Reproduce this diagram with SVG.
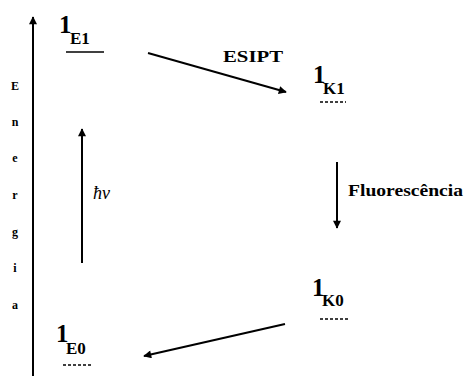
<svg xmlns="http://www.w3.org/2000/svg" width="465" height="376" viewBox="0 0 465 376">
<defs>
<style>
.ln{stroke:#000;stroke-width:2;fill:none}
.ul{stroke:#000;stroke-width:1.5;fill:none}
.dash{stroke-dasharray:3 2}
.big{font-family:"Liberation Serif",serif;font-weight:bold;font-size:25px;fill:#000}
.sub{font-family:"Liberation Serif",serif;font-weight:bold;font-size:17px;fill:#000}
.lab{font-family:"Liberation Serif",serif;font-weight:bold;font-size:17px;fill:#000}
.ax{font-family:"Liberation Serif",serif;font-weight:bold;font-size:12px;fill:#000;text-anchor:middle}
.hv{font-family:"Liberation Serif",serif;font-style:italic;font-size:18px;fill:#000}
</style>
<marker id="ah" viewBox="0 0 10 10" refX="9" refY="5" markerWidth="10" markerHeight="8" markerUnits="userSpaceOnUse" orient="auto">
<path d="M0,0 L10,5 L0,10 Z" fill="#000"/>
</marker>
</defs>
<rect width="465" height="376" fill="#fff"/>
<g id="axis">
<line class="ln" x1="33" y1="376" x2="33" y2="17" marker-end="url(#ah)"/>
<text class="ax" x="15" y="90">E</text>
<text class="ax" x="15" y="126">n</text>
<text class="ax" x="15" y="162">e</text>
<text class="ax" x="15" y="199">r</text>
<text class="ax" x="15" y="236">g</text>
<text class="ax" x="15" y="272">i</text>
<text class="ax" x="15" y="309">a</text>
</g>
<g id="E1">
<text class="big" x="59" y="33">1</text>
<text class="sub" x="70" y="44">E1</text>
<line class="ul" x1="66" y1="52" x2="104" y2="52"/>
</g>
<g id="K1">
<text class="big" x="313" y="83">1</text>
<text class="sub" x="323" y="94">K1</text>
<line class="ul dash" x1="320" y1="102" x2="346" y2="102"/>
</g>
<g id="K0">
<text class="big" x="312" y="296">1</text>
<text class="sub" x="322" y="306">K0</text>
<line class="ul dash" x1="320" y1="319" x2="349" y2="319"/>
</g>
<g id="E0">
<text class="big" x="56" y="342">1</text>
<text class="sub" x="66" y="354">E0</text>
<line class="ul dash" x1="63" y1="365" x2="92" y2="365"/>
</g>
<g id="connectors">
<line class="ln" x1="82" y1="263" x2="82" y2="129" marker-end="url(#ah)"/>
<text class="hv" x="93" y="199">ħν</text>
<line class="ln" x1="148" y1="53" x2="286" y2="92" marker-end="url(#ah)"/>
<text class="lab" x="223" y="62" textLength="60" lengthAdjust="spacingAndGlyphs">ESIPT</text>
<line class="ln" x1="337" y1="162" x2="337" y2="228" marker-end="url(#ah)"/>
<text class="lab" x="348" y="196" textLength="115" lengthAdjust="spacingAndGlyphs">Fluorescência</text>
<line class="ln" x1="285" y1="324" x2="144" y2="356" marker-end="url(#ah)"/>
</g>
</svg>
